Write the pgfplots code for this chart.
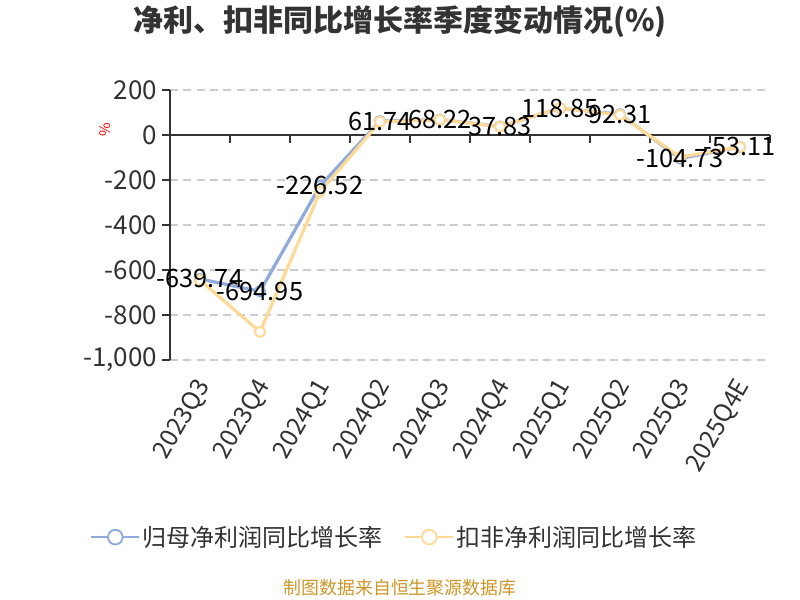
\documentclass[border=0pt]{standalone}
\usepackage{pgfplots}
\pgfplotsset{compat=1.18}
\usepackage{pgfplotstable}
\usepackage{fontspec}
\setmainfont{Noto Sans CJK SC}

\definecolor{guimu}{RGB}{143,170,220}
\definecolor{koufei}{RGB}{255,217,150}
\definecolor{txt}{RGB}{51,51,51}
\definecolor{gridc}{RGB}{204,204,204}
\definecolor{src}{RGB}{204,150,40}

% 归母净利润同比增长率
\pgfplotstableread{
x y lab
0 -639.74 -639.74
1 -694.95 -694.95
2 -226.52 -226.52
3 61.74 61.74
4 68.22 68.22
5 37.83 37.83
6 118.85 118.85
7 92.31 92.31
8 -104.73 -104.73
9 -53.11 -53.11
}\guimudata

% 扣非净利润同比增长率
\pgfplotstableread{
x y
0 -645
1 -875
2 -253
3 59
4 68
5 37
6 120
7 89
8 -98
9 -53
}\koufeidata

\begin{document}
\begin{tikzpicture}[x=0.75pt,y=0.75pt]
\path[use as bounding box, fill=white] (0,0) rectangle (800,600);
\node[font=\fontsize{22.5}{26}\selectfont\bfseries, text=txt] at (400,578) {净利、扣非同比增长率季度变动情况(\%)};
\node[font=\fontsize{11}{13}\selectfont, text=red, rotate=90] at (105,470) {\%};
\node[font=\fontsize{13.4}{16}\selectfont, text=src] at (400,12) {制图数据来自恒生聚源数据库};
\begin{axis}[
    at={(127.5pt,180pt)}, anchor=south west,
    scale only axis, width=450pt, height=202.5pt,
    xmin=-0.5, xmax=9.5, ymin=-1000, ymax=200,
    axis lines*=left,
    x axis line style={draw=none},
    y axis line style={color=txt, line width=1.2pt},
    xtick={0,...,9},
    xticklabels={2023Q3,2023Q4,2024Q1,2024Q2,2024Q3,2024Q4,2025Q1,2025Q2,2025Q3,2025Q4E},
    xtick style={draw=none},
    xticklabel style={rotate=60, anchor=east, xshift=-4pt, yshift=-8pt, font=\fontsize{18.5}{20}\selectfont, text=txt},
    ytick={-1000,-800,...,200},
    ytick style={color=txt, line width=1pt},
    tick align=outside, major tick length=6pt,
    yticklabel style={font=\fontsize{19.5}{21}\selectfont, text=txt},
    /pgf/number format/1000 sep={,},
    /pgf/number format/assume math mode=true,
    ymajorgrids, grid style={color=gridc, line width=0.8pt, dash pattern=on 6pt off 4pt},
    legend style={at={(0.375,-0.656)}, anchor=center, draw=none, fill=none,
        legend columns=2, font=\fontsize{18}{21}\selectfont, text=txt,
        /tikz/every even column/.append style={column sep=14pt}},
    clip=false,
]
\draw[color=txt, line width=1.2pt] (axis cs:-0.5,0) -- (axis cs:9.5,0);
\pgfplotsinvokeforeach{0.5,1.5,2.5,3.5,4.5,5.5,6.5,7.5,8.5,9.5}{
  \draw[color=txt, line width=1pt] (axis cs:#1,0) -- ([yshift=-6pt]axis cs:#1,0);
}
\addplot[color=guimu, line width=2.4pt, mark=*, mark size=3.8pt,
    mark options={fill=white, line width=1.5pt},
    legend image code/.code={
      \draw[color=guimu, line width=1.5pt] (0pt,0pt) -- (36pt,0pt);
      \draw[color=guimu, fill=white, line width=1.4pt] (18pt,0pt) circle (5.5pt);}]
    table[x=x, y=y] {\guimudata};
\addlegendentry{归母净利润同比增长率}
\addplot[color=koufei, line width=2.4pt, mark=*, mark size=3.8pt,
    mark options={fill=white, line width=1.5pt},
    legend image code/.code={
      \draw[color=koufei, line width=1.5pt] (0pt,0pt) -- (36pt,0pt);
      \draw[color=koufei, fill=white, line width=1.4pt] (18pt,0pt) circle (5.5pt);}]
    table[x=x, y=y] {\koufeidata};
\addlegendentry{扣非净利润同比增长率}
\addplot[draw=none, mark=none, forget plot, point meta=explicit symbolic,
    nodes near coords,
    nodes near coords style={anchor=center, font=\fontsize{19}{22}\selectfont, text=black}]
    table[x=x, y=y, meta=lab] {\guimudata};
\end{axis}
\end{tikzpicture}
\end{document}
